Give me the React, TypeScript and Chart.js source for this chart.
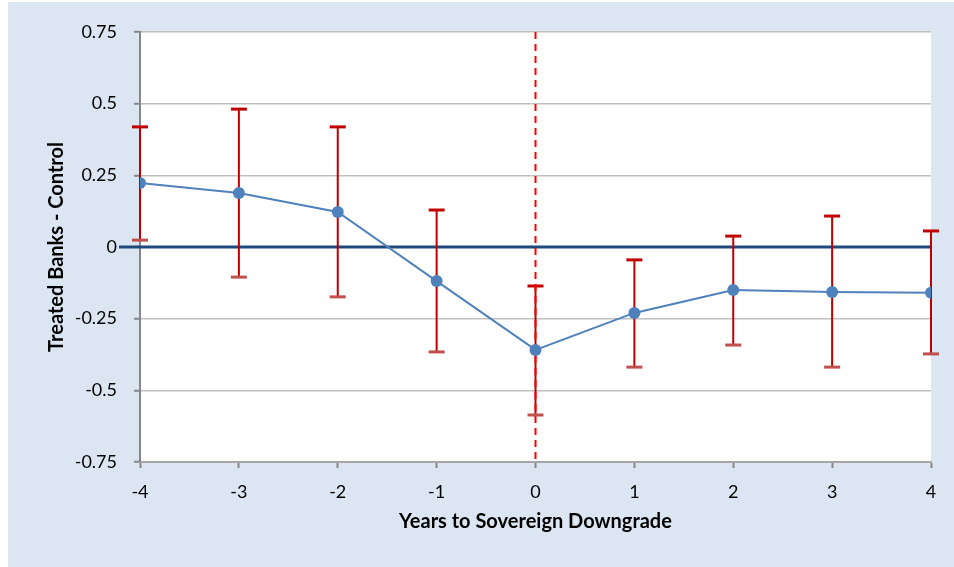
import React, { useEffect, useRef } from "react";
import { Chart, registerables } from "chart.js";

Chart.register(...registerables);

const years = [-4, -3, -2, -1, 0, 1, 2, 3, 4];
const estimates = [0.223, 0.188, 0.122, -0.119, -0.359, -0.23, -0.15, -0.157, -0.16];
const upperBounds = [0.419, 0.481, 0.419, 0.129, -0.136, -0.045, 0.038, 0.108, 0.056];
const lowerBounds = [0.024, -0.105, -0.174, -0.366, -0.586, -0.419, -0.342, -0.419, -0.373];
const yTickValues = [-0.75, -0.5, -0.25, 0, 0.25, 0.5, 0.75];
const yTickLabels = ["-0.75", "-0.5", "-0.25", "0", "0.25", "0.5", "0.75"];
const eventYear = 0;
const referenceLevel = 0;

const FONT = "Lato, 'Open Sans', sans-serif";

const decorPlugin = {
  id: "decor",
  beforeDraw(chart: any) {
    const { ctx, chartArea } = chart;
    ctx.save();
    ctx.fillStyle = "#ffffff";
    ctx.fillRect(chartArea.left, chartArea.top, chartArea.right - chartArea.left, chartArea.bottom - chartArea.top);
    ctx.restore();
  },
  beforeDatasetsDraw(chart: any) {
    const { ctx, chartArea, scales } = chart;
    const xs = scales.x;
    const ys = scales.y;
    ctx.save();
    // zero reference line
    const y0 = ys.getPixelForValue(referenceLevel);
    ctx.strokeStyle = "#1f497d";
    ctx.lineWidth = 3;
    ctx.beginPath();
    ctx.moveTo(chartArea.left - 21, y0);
    ctx.lineTo(chartArea.right, y0);
    ctx.stroke();
    // error bars
    const capHalf = 8;
    years.forEach((yr, i) => {
      const x = xs.getPixelForValue(yr);
      const ym = ys.getPixelForValue(estimates[i]);
      const yu = ys.getPixelForValue(upperBounds[i]);
      const yl = ys.getPixelForValue(lowerBounds[i]);
      ctx.lineWidth = 2;
      ctx.strokeStyle = "#c00000";
      ctx.beginPath();
      ctx.moveTo(x, yl);
      ctx.lineTo(x, yu);
      ctx.stroke();
      ctx.lineWidth = 3;
      ctx.strokeStyle = "#c00000";
      ctx.beginPath();
      ctx.moveTo(x - capHalf, yu);
      ctx.lineTo(x + capHalf, yu);
      ctx.stroke();
      ctx.strokeStyle = "#c0504d";
      ctx.beginPath();
      ctx.moveTo(x - capHalf, yl);
      ctx.lineTo(x + capHalf, yl);
      ctx.stroke();
    });
    // event vertical dashed line
    const xe = xs.getPixelForValue(eventYear);
    ctx.strokeStyle = "#ff0000";
    ctx.lineWidth = 2;
    ctx.setLineDash([7, 5]);
    ctx.beginPath();
    ctx.moveTo(xe, chartArea.top);
    ctx.lineTo(xe, chartArea.bottom);
    ctx.stroke();
    ctx.restore();
  },
};

export default function App() {
  const ref = useRef<HTMLCanvasElement | null>(null);
  useEffect(() => {
    if (!ref.current) return;
    const chart = new Chart(ref.current, {
      type: "line",
      data: {
        datasets: [
          {
            data: years.map((x, i) => ({ x, y: estimates[i] })),
            borderColor: "#4f81bd",
            backgroundColor: "#4f81bd",
            borderWidth: 2,
            pointRadius: 6,
            pointBackgroundColor: "#4f81bd",
            pointBorderWidth: 0,
            tension: 0,
          },
        ],
      },
      options: {
        responsive: false,
        animation: false,
        layout: { padding: { left: 0, top: 30, right: 23, bottom: 0 } },
        plugins: { legend: { display: false }, tooltip: { enabled: false } },
        scales: {
          x: {
            type: "linear",
            min: -4,
            max: 4,
            afterFit: (s: any) => {
              s.height = 105;
            },
            afterBuildTicks: (s: any) => {
              s.ticks = years.map((v) => ({ value: v }));
            },
            ticks: {
              color: "#000",
              font: { family: FONT, size: 18 },
              padding: 13,
              callback: (v: any) => String(v),
              maxRotation: 0,
            },
            grid: {
              drawOnChartArea: false,
              tickLength: 6,
              tickColor: "#868686",
              tickWidth: 2,
            },
            border: { color: "#a6a6a6", width: 2, dash: [6, 3] },
            title: {
              display: true,
              text: "Years to Sovereign Downgrade",
              color: "#000",
              font: { family: FONT, size: 20, weight: "bold" },
              padding: { top: 0, bottom: 33 },
            },
          },
          y: {
            min: -0.75,
            max: 0.75,
            afterFit: (s: any) => {
              s.width = 132;
            },
            afterBuildTicks: (s: any) => {
              s.ticks = yTickValues.map((v) => ({ value: v }));
            },
            ticks: {
              color: "#000",
              font: { family: FONT, size: 18 },
              padding: 17,
              callback: (v: any) => {
                const i = yTickValues.findIndex((t) => Math.abs(t - v) < 1e-9);
                return i >= 0 ? yTickLabels[i] : "";
              },
            },
            grid: {
              color: (c: any) =>
                c.tick && Math.abs(c.tick.value + 0.75) < 1e-9 ? "rgba(0,0,0,0)" : "#c0c0c0",
              lineWidth: 1.5,
              tickLength: 6,
              tickColor: "#868686",
              tickWidth: 2,
            },
            border: { color: "#868686", width: 2 },
            title: {
              display: true,
              text: "Treated Banks - Control",
              color: "#000",
              font: { family: FONT, size: 20, weight: "bold" },
              padding: { top: 37, bottom: 0 },
            },
          },
        },
      },
      plugins: [decorPlugin],
    });
    return () => chart.destroy();
  }, []);
  return (
    <div
      style={{
        position: "absolute",
        left: 8,
        top: 2,
        width: 946,
        height: 565,
        background: "#dce6f2",
      }}
    >
      <canvas ref={ref} width={946} height={565} style={{ display: "block" }} />
    </div>
  );
}
